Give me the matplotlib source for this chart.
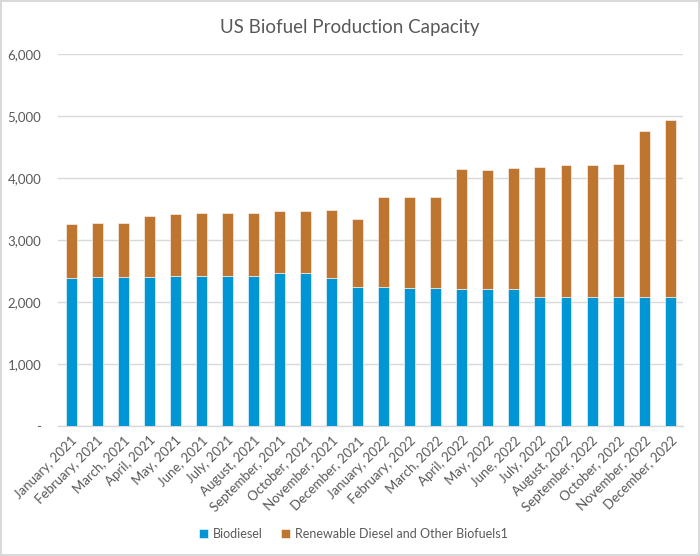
import numpy as np
import matplotlib
matplotlib.use('Agg')
import matplotlib.pyplot as plt

plt.rcParams['font.family'] = ['Lato', 'DejaVu Sans']

# Monthly capacity (million gallons per year)
months = ['January, 2021', 'February, 2021', 'March, 2021', 'April, 2021', 'May, 2021',
          'June, 2021', 'July, 2021', 'August, 2021', 'September, 2021', 'October, 2021',
          'November, 2021', 'December, 2021', 'January, 2022', 'February, 2022',
          'March, 2022', 'April, 2022', 'May, 2022', 'June, 2022', 'July, 2022',
          'August, 2022', 'September, 2022', 'October, 2022', 'November, 2022',
          'December, 2022']
biodiesel = [2390, 2400, 2400, 2400, 2422, 2422, 2422, 2422, 2460, 2460, 2385, 2233,
             2233, 2228, 2228, 2207, 2207, 2207, 2078, 2078, 2078, 2083, 2083, 2083]
renewable = [860, 870, 870, 990, 988, 1017, 1017, 1017, 1009, 1009, 1105, 1112,
             1467, 1468, 1468, 1931, 1926, 1947, 2092, 2135, 2135, 2141, 2669, 2859]

BLUE = '#0096D6'
ORANGE = '#BE752F'
GRID = '#D9D9D9'
TEXT = '#595959'

fig = plt.figure(figsize=(7, 5.56), dpi=100)
fig.patch.set_edgecolor(GRID)
fig.patch.set_linewidth(1.5)
ax = fig.add_axes([0.083, 0.234, 0.893, 0.669])

x = np.arange(len(months))
w = 0.42
ax.bar(x, biodiesel, w, color=BLUE, edgecolor='white', linewidth=0.4,
       label='Biodiesel', zorder=3)
ax.bar(x, renewable, w, bottom=biodiesel, color=ORANGE, edgecolor='white',
       linewidth=0.4, label='Renewable Diesel and Other Biofuels1', zorder=3)

ax.set_xlim(-0.5, len(months) - 0.5)
ax.set_ylim(0, 6000)
yt = np.arange(0, 7000, 1000)
ax.set_yticks(yt)
ax.set_yticklabels(['-'] + [f'{v:,}' for v in yt[1:]])
ax.grid(axis='y', color=GRID, linewidth=1, zorder=0)

for s in ['top', 'right', 'left']:
    ax.spines[s].set_visible(False)
ax.spines['bottom'].set_color(GRID)
ax.spines['bottom'].set_linewidth(1)

ax.set_xticks(x)
ax.set_xticklabels(months, rotation=45, ha='right', rotation_mode='anchor')
ax.tick_params(axis='x', length=0, pad=6, labelsize=9.5, labelcolor=TEXT)
ax.tick_params(axis='y', length=0, pad=12, labelsize=9.5, labelcolor=TEXT)

fig.suptitle('US Biofuel Production Capacity', x=0.5, y=0.965, fontsize=13.5, color=TEXT)

fig.legend(loc='center', bbox_to_anchor=(0.505, 0.04), ncol=2, frameon=False,
           fontsize=9, labelcolor=TEXT, handlelength=0.7, handleheight=0.7,
           handletextpad=0.4, columnspacing=1.5)

fig.savefig('out.png', dpi=100, edgecolor=fig.get_edgecolor())
